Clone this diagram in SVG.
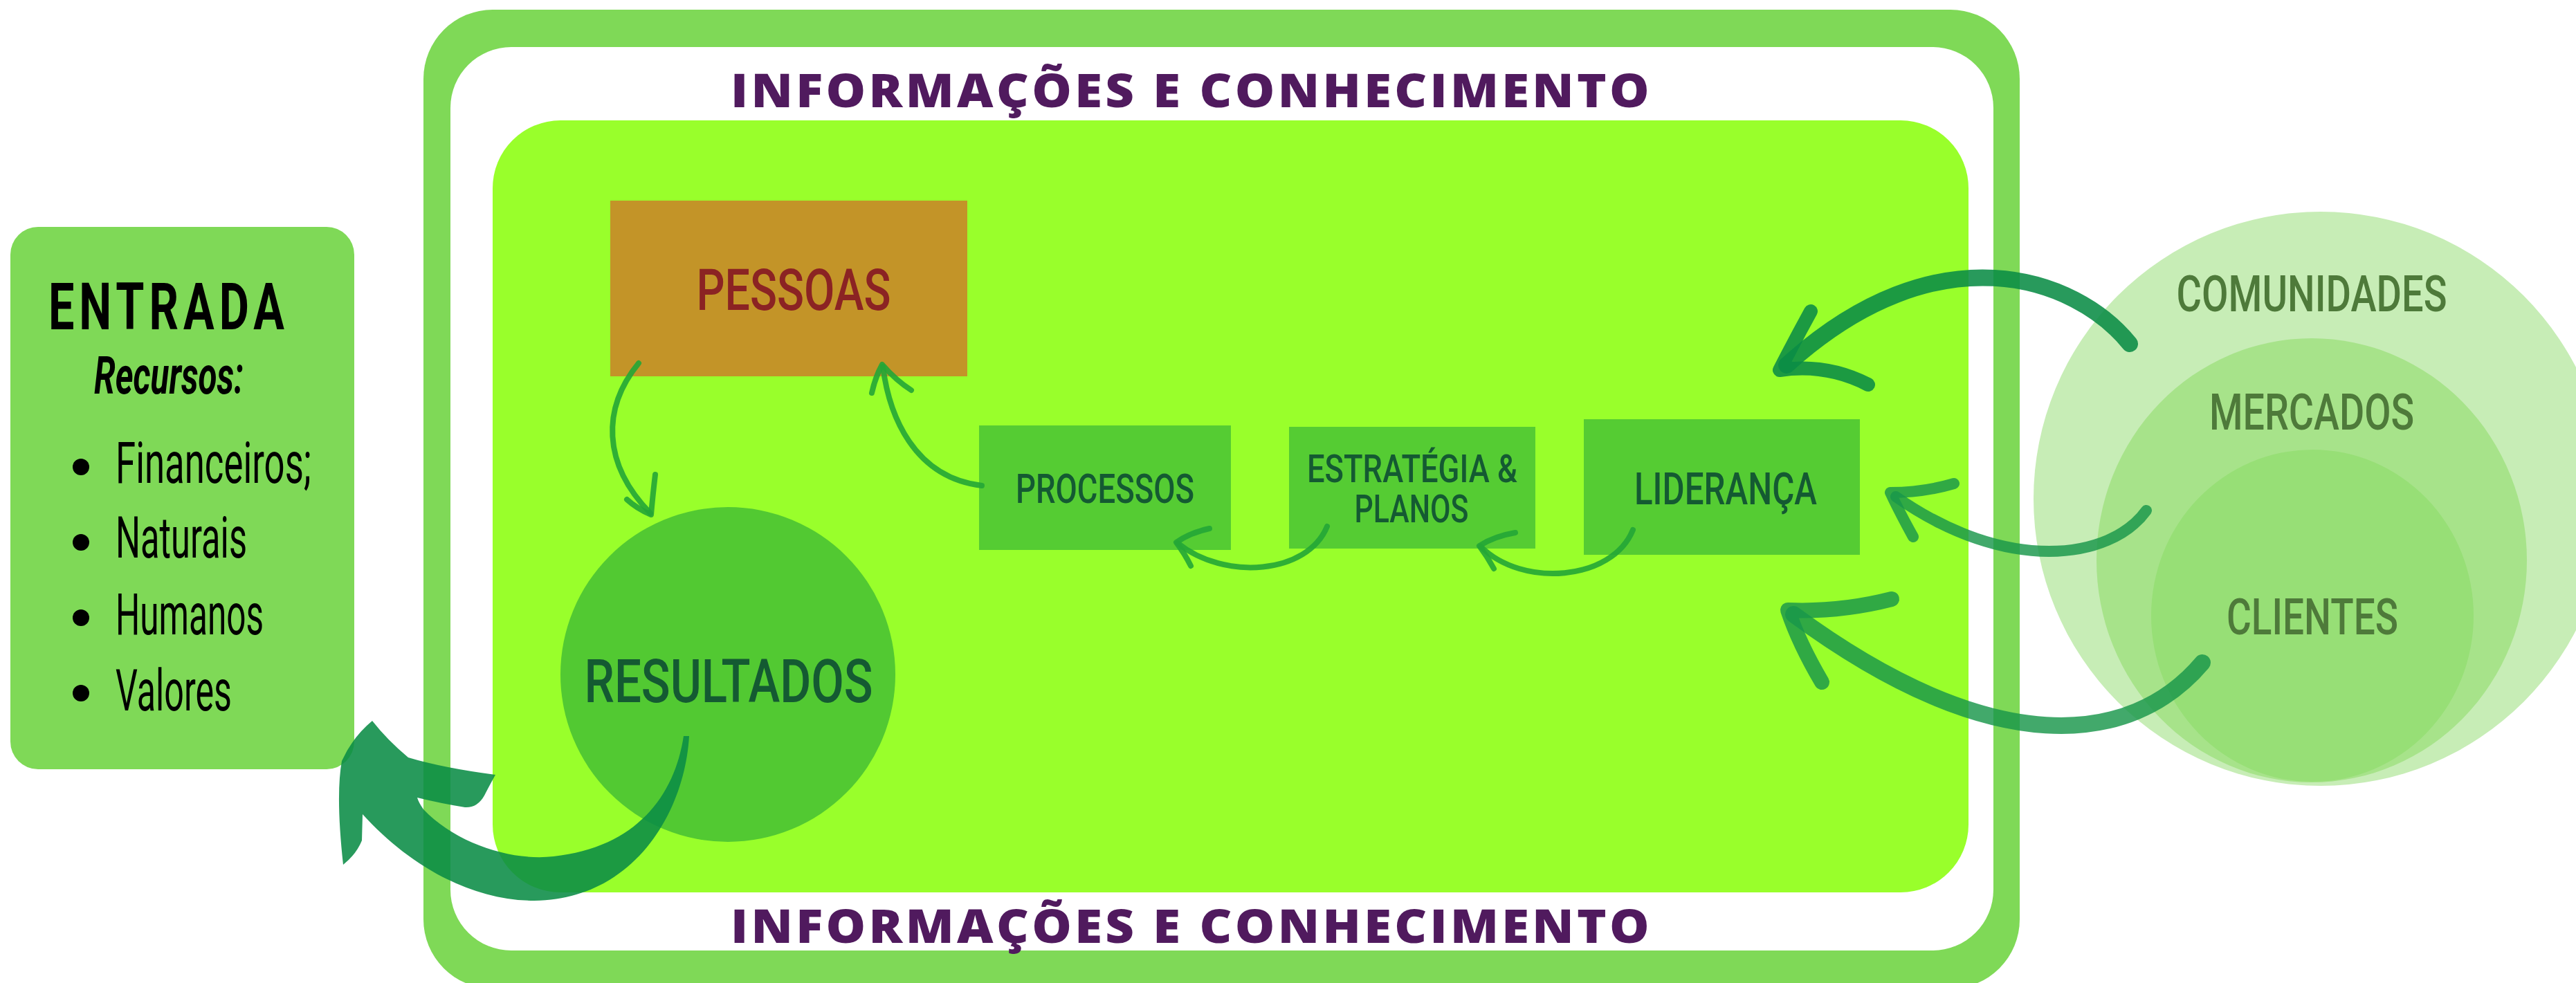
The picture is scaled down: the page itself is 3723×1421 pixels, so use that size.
<svg xmlns="http://www.w3.org/2000/svg" width="3723" height="1421" viewBox="0 0 3723 1421">
<style>
.cond{font-family:Roboto,"Liberation Sans",sans-serif;font-weight:500;}
.box{fill:#55CC33;}
.lbl{font-family:Roboto,"Liberation Sans",sans-serif;font-weight:500;fill:#145A32;text-anchor:middle;}
.ring{font-family:Roboto,"Liberation Sans",sans-serif;font-weight:500;fill:#4E7A3A;text-anchor:middle;}
.title{font-family:"Open Sans","Liberation Sans",sans-serif;font-weight:800;fill:#501A5E;text-anchor:middle;font-size:67px;letter-spacing:4px;}
.ent{font-family:Roboto,"Liberation Sans",sans-serif;fill:#000;}
.arrD{fill:none;stroke:#0A8C46;stroke-opacity:0.88;stroke-linecap:round;stroke-linejoin:round;}
.arrM{fill:none;stroke:#19964A;stroke-opacity:0.82;stroke-linecap:round;stroke-linejoin:round;}
.arrS{fill:none;stroke:#23A636;stroke-opacity:0.9;stroke-linecap:round;stroke-linejoin:round;stroke-width:8;}
</style>
<rect width="3723" height="1421" fill="#FFFFFF"/>
<g id="frame">
<rect x="612" y="14" width="2307" height="1415" rx="100" ry="100" fill="#7FD957"/>
<rect x="651" y="68" width="2230" height="1306" rx="88" ry="88" fill="#FFFFFF"/>
<rect x="712" y="174" width="2133" height="1116" rx="98" ry="98" fill="#99FF2B"/>
<text class="title" x="1722" y="155" textLength="1332" lengthAdjust="spacingAndGlyphs">INFORMAÇÕES E CONHECIMENTO</text>
<text class="title" x="1722" y="1363" textLength="1332" lengthAdjust="spacingAndGlyphs">INFORMAÇÕES E CONHECIMENTO</text>
</g>
<g id="entrada">
<rect x="15" y="328" width="497" height="784" rx="40" ry="40" fill="#7FD957"/>
<text class="ent" transform="scale(0.7 1)" x="100" y="476" font-size="95" font-weight="bold" textLength="487" lengthAdjust="spacing">ENTRADA</text>
<text class="ent" x="136" y="569" font-size="76" font-weight="bold" font-style="italic" textLength="216" lengthAdjust="spacingAndGlyphs">Recursos:</text>
<circle cx="117" cy="675" r="12" fill="#000"/>
<circle cx="117" cy="784" r="12" fill="#000"/>
<circle cx="117" cy="893" r="12" fill="#000"/>
<circle cx="117" cy="1002" r="12" fill="#000"/>
<text class="ent" x="167" y="698" font-size="83" textLength="283" lengthAdjust="spacingAndGlyphs">Financeiros;</text>
<text class="ent" x="167" y="806" font-size="83" textLength="190" lengthAdjust="spacingAndGlyphs">Naturais</text>
<text class="ent" x="167" y="917" font-size="83" textLength="214" lengthAdjust="spacingAndGlyphs">Humanos</text>
<text class="ent" x="167" y="1027" font-size="83" textLength="168" lengthAdjust="spacingAndGlyphs">Valores</text>
</g>
<g id="comunidades">
<circle cx="3354" cy="721" r="415" fill="#C7EDB6"/>
<text class="ring" x="3341" y="450" font-size="73" textLength="391" lengthAdjust="spacingAndGlyphs">COMUNIDADES</text>
</g>
<g id="mercados">
<ellipse cx="3341" cy="810" rx="311" ry="321" fill="#A7E38A"/>
<text class="ring" x="3341" y="621" font-size="72" textLength="296" lengthAdjust="spacingAndGlyphs">MERCADOS</text>
</g>
<g id="clientes">
<ellipse cx="3342" cy="890" rx="233" ry="240" fill="#97DF76"/>
<text class="ring" x="3342" y="917" font-size="73" textLength="248" lengthAdjust="spacingAndGlyphs">CLIENTES</text>
</g>
<g id="pessoas">
<rect x="882" y="290" width="516" height="254" fill="#C39428"/>
<text x="1147" y="448" font-size="84" fill="#8B2323" text-anchor="middle" class="cond" textLength="281" lengthAdjust="spacingAndGlyphs">PESSOAS</text>
</g>
<g id="processos">
<rect class="box" x="1415" y="615" width="364" height="180"/>
<text class="lbl" x="1597" y="727" font-size="59" textLength="258" lengthAdjust="spacingAndGlyphs">PROCESSOS</text>
</g>
<g id="estrategia">
<rect class="box" x="1863" y="617" width="356" height="176"/>
<text class="lbl" x="2041" y="697" font-size="56" textLength="304" lengthAdjust="spacingAndGlyphs">ESTRATÉGIA &amp;</text>
<text class="lbl" x="2040" y="755" font-size="55" textLength="165" lengthAdjust="spacingAndGlyphs">PLANOS</text>
</g>
<g id="lideranca">
<rect class="box" x="2289" y="606" width="399" height="196"/>
<text class="lbl" x="2494" y="729" font-size="65" textLength="264" lengthAdjust="spacingAndGlyphs">LIDERANÇA</text>
</g>
<g id="resultados">
<circle cx="1052" cy="975" r="242" fill="#52C932"/>
<text class="lbl" x="1053" y="1015" font-size="88" textLength="417" lengthAdjust="spacingAndGlyphs">RESULTADOS</text>
</g>
<g id="connectors">
<path class="arrD" stroke-width="24" d="M 3078 497 C 3000 400, 2800 330, 2582 528"/>
<path class="arrD" stroke-width="20" d="M 2617 450 Q 2595 490 2572 535 Q 2640 525 2700 556"/>
<path class="arrM" stroke-width="16" d="M 3102 738 C 3050 810, 2900 830, 2740 718"/>
<path class="arrM" stroke-width="16" d="M 2765 776 Q 2745 740 2732 712 Q 2780 712 2824 699"/>
<path class="arrM" stroke-width="24" d="M 3183 958 C 3080 1080, 2880 1100, 2592 888"/>
<path class="arrM" stroke-width="22" d="M 2633 986 Q 2600 930 2584 882 Q 2660 885 2734 866"/>
<path class="arrS" d="M 923 525 C 870 590, 870 670, 940 742"/>
<path class="arrS" d="M 947 686 Q 943 720 941 744 Q 920 735 906 722"/>
<path class="arrS" stroke="#45BF35" d="M 1419 702 C 1320 690, 1285 600, 1276 530"/>
<path class="arrS" stroke="#45BF35" d="M 1260 568 Q 1265 545 1275 527 Q 1295 550 1317 564"/>
<path class="arrS" d="M 1918 761 C 1890 830, 1770 840, 1702 785"/>
<path class="arrS" d="M 1748 764 Q 1720 770 1700 784 Q 1712 800 1721 818"/>
<path class="arrS" d="M 2360 766 C 2330 840, 2200 850, 2140 790"/>
<path class="arrS" d="M 2190 770 Q 2160 775 2138 789 Q 2150 805 2159 822"/>
<path fill="#0A8C46" fill-opacity="0.88" d="M 996 1064 C 990 1170, 920 1300, 772 1302 C 680 1302, 590 1250, 524 1177 L 523 1215 Q 515 1235 496 1250 Q 485 1150 494 1100 Q 510 1065 538 1042 Q 560 1070 590 1095 Q 640 1110 716 1120 Q 705 1140 700 1150 Q 690 1168 672 1167 Q 640 1162 603 1153 Q 605 1160 612 1170 C 660 1220, 740 1245, 800 1238 C 920 1225, 975 1150, 988 1064 Z"/>
</g>
</svg>
